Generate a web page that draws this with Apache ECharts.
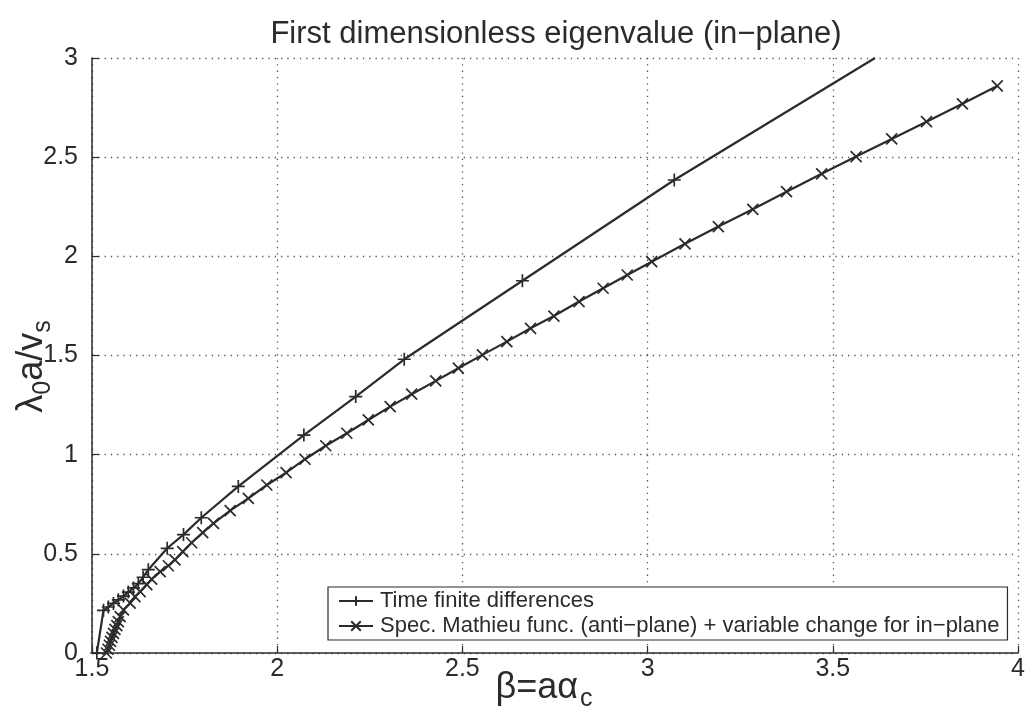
<!DOCTYPE html>
<html>
<head>
<meta charset="utf-8">
<script src="https://cdn.jsdelivr.net/npm/echarts@6/dist/echarts.min.js"></script>
<style>
html,body{margin:0;padding:0;background:#fff;}
#chart{width:1029px;height:715px;}
</style>
</head>
<body>
<div id="chart"></div>
<script>
// Time finite differences (+)
var fdX = [1.513, 1.531, 1.544, 1.558, 1.571, 1.585, 1.598, 1.612, 1.625, 1.638, 1.652, 1.703, 1.747, 1.795, 1.895, 2.072, 2.212, 2.343, 2.662, 3.072, 3.614];
var fdY = [0.000, 0.215, 0.232, 0.250, 0.268, 0.287, 0.307, 0.328, 0.350, 0.382, 0.420, 0.528, 0.597, 0.682, 0.840, 1.099, 1.293, 1.481, 1.877, 2.385, 3.000];
// Spec. Mathieu func. (x)
var mtX = [1.539, 1.543, 1.547, 1.550, 1.554, 1.558, 1.562, 1.567, 1.571, 1.576, 1.585, 1.603, 1.616, 1.630, 1.648, 1.661, 1.684, 1.706, 1.724, 1.745, 1.769, 1.799, 1.828, 1.873, 1.922, 1.972, 2.024, 2.075, 2.131, 2.188, 2.246, 2.305, 2.363, 2.428, 2.489, 2.554, 2.620, 2.684, 2.747, 2.815, 2.880, 2.945, 3.011, 3.101, 3.191, 3.284, 3.375, 3.470, 3.563, 3.659, 3.753, 3.850, 3.944];
var mtY = [0.000, 0.019, 0.039, 0.059, 0.079, 0.099, 0.119, 0.138, 0.158, 0.183, 0.217, 0.251, 0.284, 0.309, 0.345, 0.372, 0.410, 0.440, 0.470, 0.511, 0.556, 0.607, 0.654, 0.718, 0.780, 0.847, 0.909, 0.977, 1.045, 1.108, 1.175, 1.242, 1.305, 1.372, 1.436, 1.503, 1.570, 1.637, 1.699, 1.772, 1.839, 1.906, 1.973, 2.063, 2.150, 2.237, 2.326, 2.416, 2.503, 2.592, 2.679, 2.769, 2.859];
var xTicks = [1.5, 2, 2.5, 3, 3.5, 4];
var yTicks = [0, 0.5, 1, 1.5, 2, 2.5, 3];
var seriesNames = ['Time finite differences', 'Spec. Mathieu func. (anti\u2212plane) + variable change for in\u2212plane'];

var INK = '#2b2b2b';
var FONT = '"Liberation Sans", Arial, Helvetica, sans-serif';
var plusPath = 'path://M5,0L5,10M0,5L10,5';
var crossPath = 'path://M0,0L10,10M10,0L0,10';

var fdData = fdX.map(function (x, i) {
  var item = { value: [x, fdY[i]] };
  if (i === fdX.length - 1) item.symbol = 'none';
  return item;
});
var mtData = mtX.map(function (x, i) { return [x, mtY[i]]; });

function tickFmt(v) { return String(v); }

var chart = echarts.init(document.getElementById('chart'), null, { renderer: 'canvas' });
chart.setOption({
  animation: false,
  backgroundColor: '#fff',
  textStyle: { fontFamily: FONT, color: INK },
  title: {
    text: 'First dimensionless eigenvalue (in\u2212plane)',
    left: 551, top: 14, textAlign: 'center',
    textStyle: { fontFamily: FONT, fontSize: 31, fontWeight: 'normal', color: INK }
  },
  grid: { left: 92, right: 11, top: 58, bottom: 62, containLabel: false, outerBoundsMode: 'none' },
  legend: {
    orient: 'vertical',
    left: 328, top: 587,
    backgroundColor: '#fff',
    borderColor: INK, borderWidth: 1.2,
    padding: [3, 8, 3, 10],
    itemGap: 3,
    itemWidth: 34, itemHeight: 12,
    textStyle: { fontFamily: FONT, fontSize: 22, color: INK, padding: [0, 0, 0, 2] },
    data: seriesNames
  },
  xAxis: {
    type: 'value', min: 1.5, max: 4, interval: 0.5,
    name: '{n|\u03b2=a\u03b1}{s|c}',
    nameLocation: 'middle', nameGap: 12, nameMoveOverlap: false,
    nameTextStyle: {
      padding: [0, 22, 0, 0],
      rich: {
        n: { fontFamily: FONT, fontSize: 36, color: INK },
        s: { fontFamily: FONT, fontSize: 25, color: INK, padding: [22, 0, 0, 2] }
      }
    },
    axisLine: { show: true, lineStyle: { color: INK, width: 1.5 } },
    axisTick: { show: true, inside: true, length: 7, lineStyle: { color: INK, width: 1.2 } },
    axisLabel: { fontFamily: FONT, fontSize: 25, color: INK, margin: 4, formatter: tickFmt },
    splitLine: { show: true, lineStyle: { color: '#555', width: 1.3, type: [1.3, 5] } }
  },
  yAxis: {
    type: 'value', min: 0, max: 3, interval: 0.5,
    name: '{n|\u03bb}{s|0}{n|a/v}{s|s}',
    nameLocation: 'middle', nameGap: 36, nameRotate: 90, nameMoveOverlap: false,
    nameTextStyle: {
      padding: [0, 22, 0, 0],
      rich: {
        n: { fontFamily: FONT, fontSize: 36, color: INK },
        s: { fontFamily: FONT, fontSize: 25, color: INK, padding: [22, 0, 0, 0] }
      }
    },
    axisLine: { show: true, lineStyle: { color: INK, width: 1.5 } },
    axisTick: { show: true, inside: true, length: 7, lineStyle: { color: INK, width: 1.2 } },
    axisLabel: { fontFamily: FONT, fontSize: 25, color: INK, margin: 14, formatter: tickFmt },
    splitLine: { show: true, lineStyle: { color: '#555', width: 1.3, type: [1.3, 5] } }
  },
  series: [
    {
      name: seriesNames[0], type: 'line', data: fdData,
      symbol: plusPath, symbolSize: 13, showAllSymbol: true,
      lineStyle: { color: INK, width: 2.2 },
      itemStyle: { color: INK, borderColor: INK, borderWidth: 1.7 },
      clip: true, z: 3
    },
    {
      name: seriesNames[1], type: 'line', data: mtData,
      symbol: crossPath, symbolSize: 11, showAllSymbol: true,
      lineStyle: { color: INK, width: 2.2 },
      itemStyle: { color: INK, borderColor: INK, borderWidth: 1.7 },
      clip: true, z: 2
    }
  ]
});
</script>
</body>
</html>
